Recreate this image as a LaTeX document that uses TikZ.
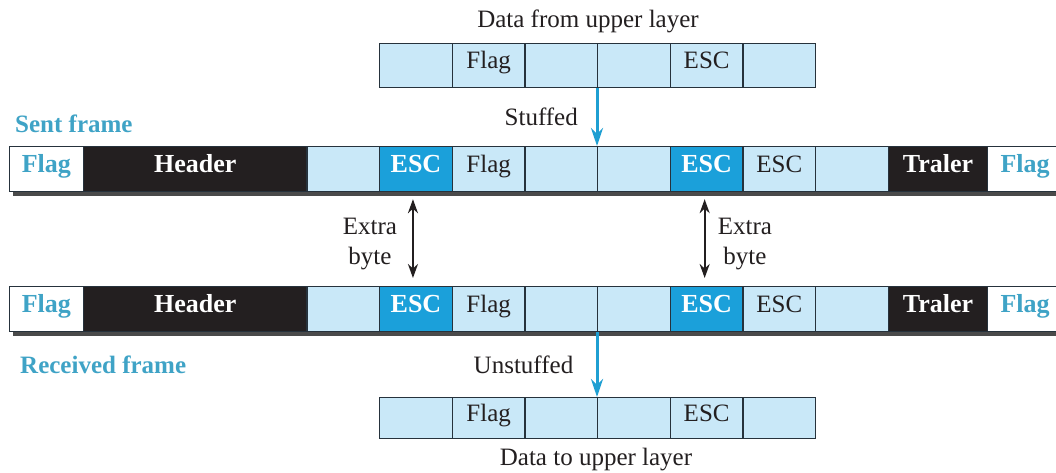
\documentclass[tikz,border=0pt]{standalone}
\usepackage{fontspec}
\setmainfont{Liberation Serif}
\usetikzlibrary{arrows.meta}
\definecolor{lb}{HTML}{C9E8F8}
\definecolor{escc}{HTML}{1BA0DA}
\definecolor{cy}{HTML}{3FA3C6}
\definecolor{blk}{HTML}{231F20}
\definecolor{ln}{HTML}{26323C}
\definecolor{arr}{HTML}{1F9FD2}
\definecolor{shd}{HTML}{4A4A4A}
\newcommand\myrow[2]{%
  \fill[shd] (13,#1+5) rectangle (1062,#1+50);
  \node[flagc, minimum width=74.5pt] (#2F1) at (8.5,#1) {Flag};
  \node[blkc, minimum width=223.3pt] (#2H) at (83,#1) {Header};
  \node[cellc] (#2c1) at (306.3,#1) {};
  \node[escbox] (#2e1) at (379,#1) {ESC};
  \node[cellc] (#2f1) at (451.7,#1) {Flag};
  \node[cellc] (#2c2) at (524.3,#1) {};
  \node[cellc] (#2c3) at (597,#1) {};
  \node[escbox] (#2e2) at (669.7,#1) {ESC};
  \node[cellc] (#2e3) at (742.3,#1) {ESC};
  \node[cellc] (#2c4) at (815,#1) {};
  \node[blkc, minimum width=99.3pt] (#2T) at (887.7,#1) {Traler};
  \node[flagc, minimum width=75pt] (#2F2) at (987,#1) {Flag};
}
\begin{document}
\begin{tikzpicture}[x=1pt,y=-1pt,
  font=\fontsize{25}{30}\selectfont,
  base/.style={draw=ln, line width=1.2pt, inner sep=0pt, anchor=north west,
    minimum height=45pt, minimum width=72.7pt, text height=0.66em, text depth=0pt},
  cellc/.style={base, fill=lb, text=blk},
  escbox/.style={base, fill=escc, text=white, font=\fontsize{26}{30}\selectfont\bfseries},
  blkc/.style={base, fill=blk, text=white, font=\fontsize{26}{30}\selectfont\bfseries},
  flagc/.style={base, fill=white, text=cy, font=\fontsize{26}{30}\selectfont\bfseries},
  dcell/.style={cellc, minimum height=44pt},
  lbl/.style={anchor=base, text=blk, inner sep=0pt},
  tlbl/.style={anchor=base west, text=cy, inner sep=0pt, font=\fontsize{25}{30}\selectfont\bfseries},
  bluearr/.style={draw=arr, line width=3pt, -{Stealth[length=18pt,width=12pt]}},
  extraarr/.style={draw=blk, line width=2.2pt, {Stealth[length=14pt,width=10pt]}-{Stealth[length=14pt,width=10pt]}}
]
\useasboundingbox (0,0) rectangle (1056,472);
\fill[white] (0,0) rectangle (1056,472);

% top data
\node[lbl] (dfrom) at (588,27) {Data from upper layer};
\node[dcell] (t1) at (379,43) {};
\node[dcell] (t2) at (451.7,43) {Flag};
\node[dcell] (t3) at (524.3,43) {};
\node[dcell] (t4) at (597,43) {};
\node[dcell] (t5) at (669.7,43) {ESC};
\node[dcell] (t6) at (742.3,43) {};

% sent frame
\node[tlbl] (sentl) at (15,132) {Sent frame};
\node[lbl, anchor=base east] (stuffl) at (578,125) {Stuffed};
\myrow{146}{s}

% received frame
\myrow{286}{r}
\node[tlbl] (recvl) at (20,373) {Received frame};
\node[lbl] (unstl) at (523.5,373) {Unstuffed};

% bottom data
\node[dcell, minimum height=41pt] (b1) at (379,397) {};
\node[dcell, minimum height=41pt] (b2) at (451.7,397) {Flag};
\node[dcell, minimum height=41pt] (b3) at (524.3,397) {};
\node[dcell, minimum height=41pt] (b4) at (597,397) {};
\node[dcell, minimum height=41pt] (b5) at (669.7,397) {ESC};
\node[dcell, minimum height=41pt] (b6) at (742.3,397) {};
\node[lbl] (dto) at (596,465) {Data to upper layer};

% extra byte labels
\node[lbl] (ex1a) at (370,234) {Extra};
\node[lbl] (ex1b) at (370,264) {byte};
\node[lbl] (ex2a) at (745,234) {Extra};
\node[lbl] (ex2b) at (745,264) {byte};

% arrows
\draw[bluearr] (t4.south west) -- (sc3.north west);
\draw[bluearr] (rc3.south west) -- (b4.north west);
\draw[extraarr] ([xshift=-3pt,yshift=-7pt]se1.south) -- ([xshift=-3pt,yshift=8pt]re1.north);
\draw[extraarr] ([xshift=-2pt,yshift=-7pt]se2.south) -- ([xshift=-2pt,yshift=8pt]re2.north);
\end{tikzpicture}
\end{document}
